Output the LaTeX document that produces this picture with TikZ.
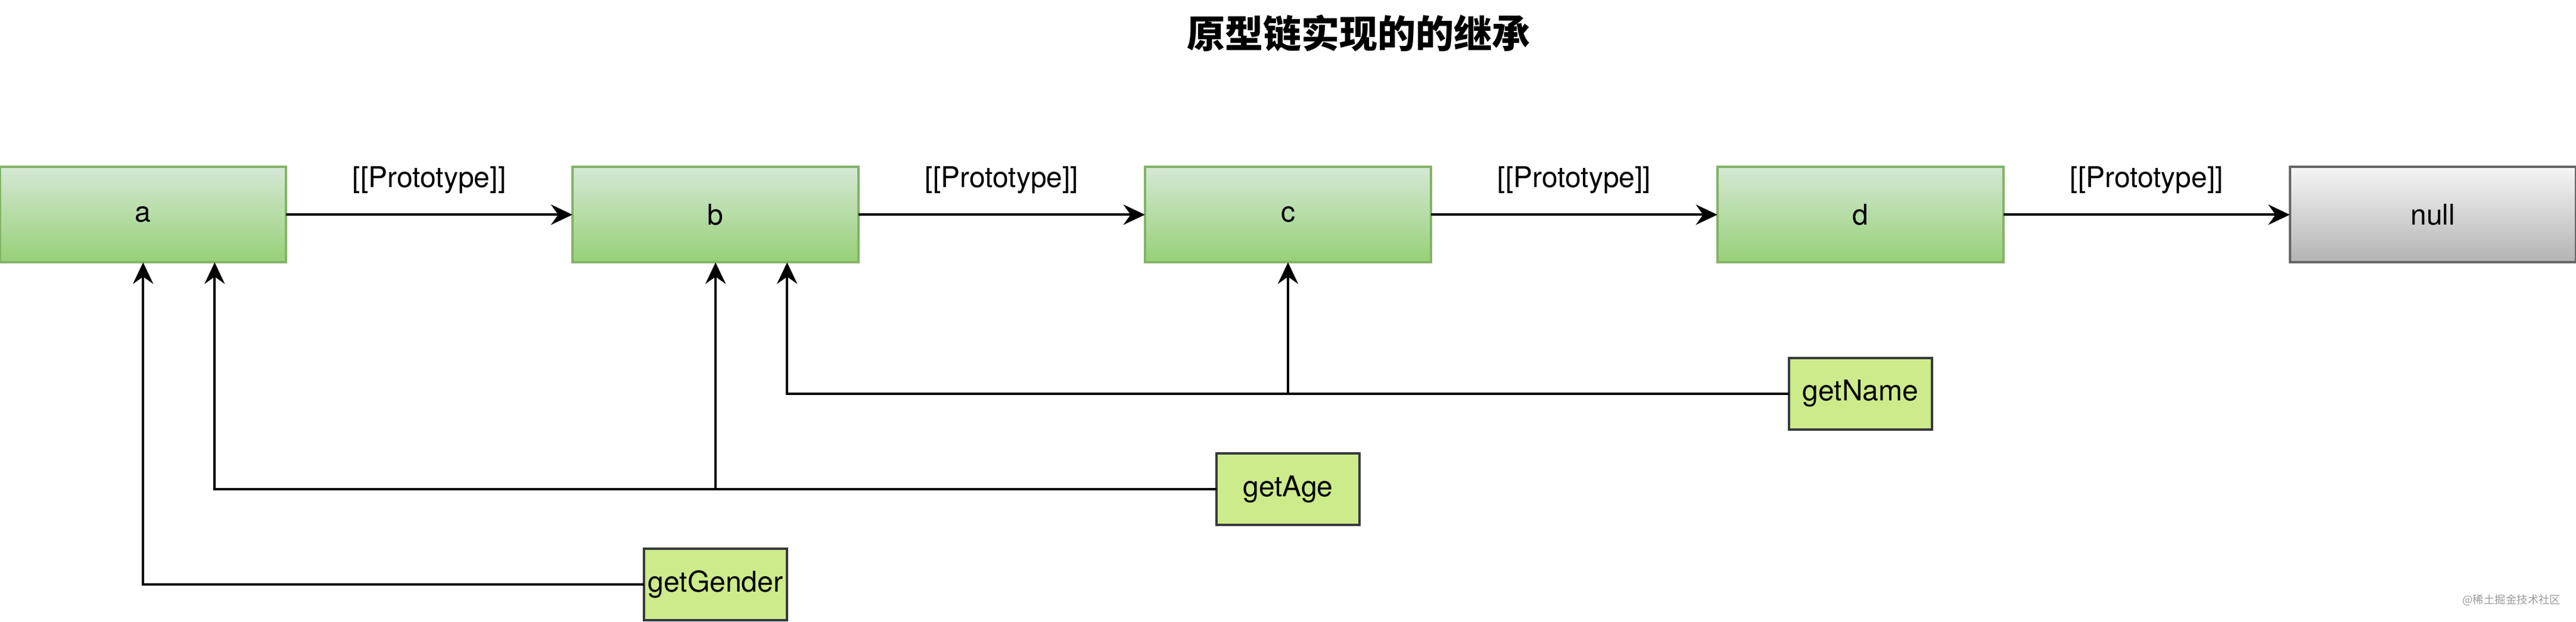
\documentclass[tikz,border=0pt]{standalone}
\usepackage{fontspec}
\setmainfont{TeX Gyre Heros}
\newfontfamily\cjk{Noto Sans CJK SC}
\usetikzlibrary{arrows.meta}
\definecolor{gtop}{HTML}{D5E8D4}
\definecolor{gbot}{HTML}{97D077}
\definecolor{gstroke}{HTML}{82B366}
\definecolor{ntop}{HTML}{F5F5F5}
\definecolor{nbot}{HTML}{B3B3B3}
\definecolor{nstroke}{HTML}{666666}
\definecolor{mfill}{HTML}{CDEB8B}
\definecolor{mstroke}{HTML}{36393D}
\definecolor{wm}{HTML}{9A9A9A}
\tikzset{
  objbox/.style={draw=gstroke, line width=1pt, top color=gtop, bottom color=gbot,
    minimum width=120pt, minimum height=40pt, inner sep=0pt, outer sep=0pt,
    font=\fontsize{12}{14}\selectfont},
  nullbox/.style={objbox, draw=nstroke, top color=ntop, bottom color=nbot},
  methbox/.style={draw=mstroke, line width=1pt, fill=mfill,
    minimum width=60pt, minimum height=30pt, inner sep=0pt, outer sep=0pt,
    font=\fontsize{12}{14}\selectfont},
  arr/.style={line width=1pt, -{Stealth[length=9pt, width=8.5pt, inset=3pt]}},
  protolbl/.style={font=\fontsize{12}{14}\selectfont, yshift=14.6pt, inner sep=0pt}
}
\begin{document}
\begin{tikzpicture}[x=1pt, y=-1pt]
\useasboundingbox (0,0) rectangle (1080,260.7);
\node[font=\cjk\bfseries\fontsize{16}{18}\selectfont] (title) at (569.6,14) {原型链实现的的继承};
\node[objbox] (a) at (60,90) {a};
\node[objbox] (b) at (300,90) {b};
\node[objbox] (c) at (540,90) {c};
\node[objbox] (d) at (780,90) {d};
\node[nullbox] (n) at (1020,90) {null};
\node[methbox] (gn) at (780,165) {getName};
\node[methbox] (ga) at (540,205) {getAge};
\node[methbox] (gg) at (300,245) {getGender};
\draw[arr] (a) -- (b) node[protolbl, midway] {[[Prototype]]};
\draw[arr] (b) -- (c) node[protolbl, midway] {[[Prototype]]};
\draw[arr] (c) -- (d) node[protolbl, midway] {[[Prototype]]};
\draw[arr] (d) -- (n) node[protolbl, midway] {[[Prototype]]};
\draw[arr] (gn.west) -| (c.south);
\draw[arr] (gn.west) -| ([xshift=30pt]b.south);
\draw[arr] (ga.west) -| (b.south);
\draw[arr] (ga.west) -| ([xshift=30pt]a.south);
\draw[arr] (gg.west) -| (a.south);
\node[font=\cjk\fontsize{4.6}{5}\selectfont, text=wm, inner sep=0pt] (wmk) at (1053,251.5) {@稀土掘金技术社区};
\end{tikzpicture}
\end{document}
